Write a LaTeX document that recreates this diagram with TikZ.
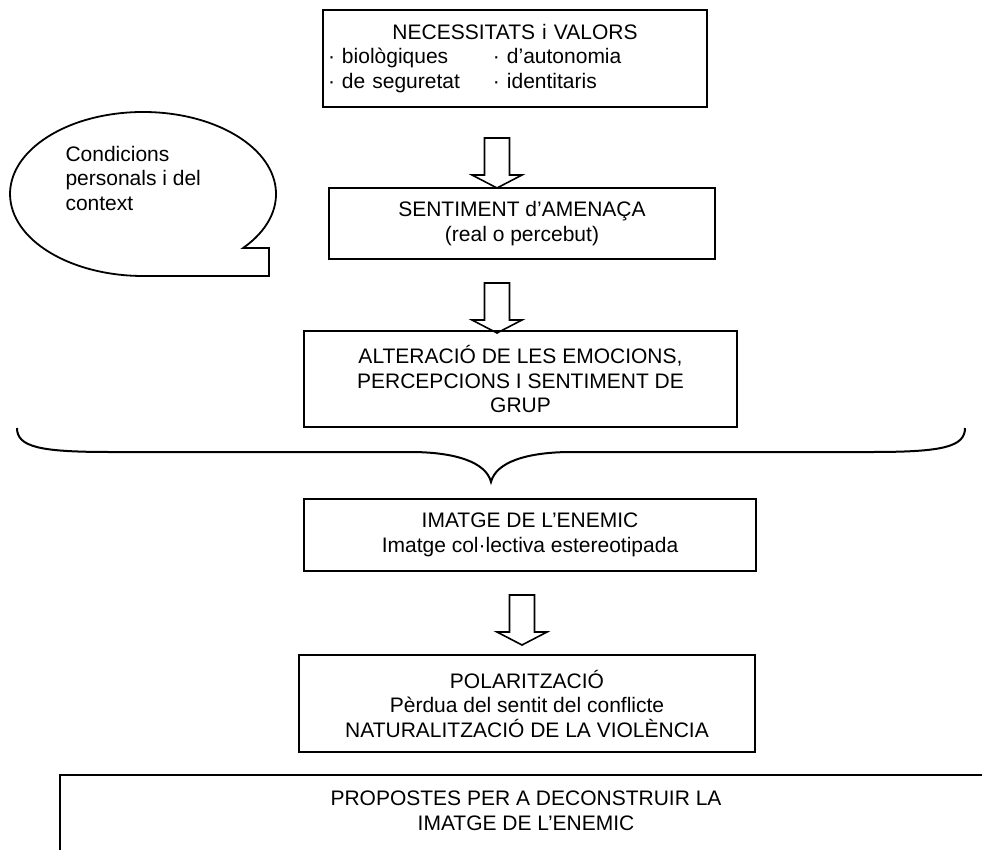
\documentclass[tikz,border=0pt]{standalone}
\usepackage{fontspec}
\setmainfont{Liberation Sans}
\begin{document}
\begin{tikzpicture}[x=1pt,y=-1pt,
  txt/.style={font=\fontsize{21}{24.5}\selectfont},
  box/.style={draw, line width=1.8pt, inner sep=0pt, align=center, txt},
  blockarr/.pic={\draw[line width=1.6pt, line join=miter]
     (-12.5,0) -- (12.5,0) -- (12.5,37) -- (25,37) -- (0,50) -- (-25,37) -- (-12.5,37) -- cycle;},
  outl/.style={line width=1.8pt}]
\useasboundingbox (0,0) rectangle (982,850);

% boxes
\node[box, minimum width=384pt, minimum height=97pt, inner xsep=5pt, text width=374pt, align=left] (b1) at (515,58.5)
  {\makebox[374pt][c]{NECESSITATS i VALORS}\\
   \makebox[165pt][l]{· biològiques}· d’autonomia\\
   \makebox[165pt][l]{· de seguretat}· identitaris};
\node[box, minimum width=386pt, minimum height=71pt] (b2) at (522,223.5)
  {SENTIMENT d’AMENAÇA\\(real o percebut)};
\node[box, minimum width=433pt, minimum height=96pt] (b3) at (520.5,379)
  {ALTERACIÓ DE LES EMOCIONS,\\PERCEPCIONS I SENTIMENT DE\\GRUP};
\node[box, minimum width=452pt, minimum height=72pt] (b4) at (530,535)
  {IMATGE DE L’ENEMIC\\Imatge col·lectiva estereotipada};
\node[box, minimum width=456pt, minimum height=97pt] (b5) at (527,703.5)
  {POLARITZACIÓ\\Pèrdua del sentit del conflicte\\NATURALITZACIÓ DE LA VIOLÈNCIA};

% bottom open box
\begin{scope}
\clip (0,0) rectangle (982,850);
\coordinate (p1) at (60,860);
\coordinate (p2) at (60,775);
\coordinate (p3) at (990,775);
\draw[outl] (p1) -- (p2) -- (p3);
\end{scope}
\node[txt, align=center] (b6) at (526,811) {PROPOSTES PER A DECONSTRUIR LA\\IMATGE DE L’ENEMIC};

% block arrows
\pic (a1) at (497,138) {blockarr};
\pic (a2) at (497,283) {blockarr};
\pic (a3) at (522,595) {blockarr};

% callout
\draw[outl, line join=miter] (243.1,248) arc[start angle=41.2, end angle=-270, x radius=133, y radius=82]
  -- (269,276) -- (269,248) -- cycle;
\node[txt, align=left, anchor=west] (c1) at (62,178) {Condicions\\personals i del\\context};

% brace
\coordinate (bl) at (17,428);
\coordinate (bm) at (491,482);
\coordinate (br) at (965,428);
\draw[line width=2pt] (bl) .. controls (17,447) and (40,452) .. (110,452) -- (410,452)
  .. controls (455,452) and (486,462) .. (bm)
  .. controls (496,462) and (527,452) .. (572,452) -- (872,452)
  .. controls (942,452) and (965,447) .. (br);
\end{tikzpicture}
\end{document}
